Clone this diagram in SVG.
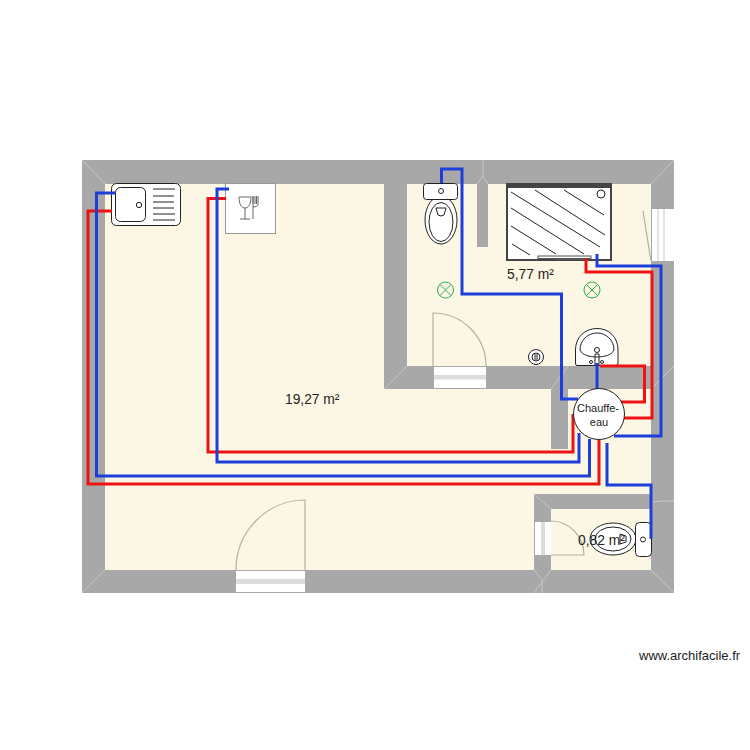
<svg xmlns="http://www.w3.org/2000/svg" width="750" height="750" viewBox="0 0 750 750">
<style>
text{font-family:"Liberation Sans",Arial,sans-serif;fill:#222}
.wall{fill:#a8a8a8}
.room{fill:#fcf7e4}
.seam{stroke:#c8c8c8;stroke-width:1;fill:none}
.door{fill:none;stroke:#b5b0a5;stroke-width:1.2}
.win{fill:#fff}
.win2{fill:#dcdcdc}
.hot{fill:none;stroke:#ee1212;stroke-width:3}
.cold{fill:none;stroke:#1c3fdc;stroke-width:3}
.fx{fill:#fff;stroke:#222;stroke-width:1}
.ln{fill:none;stroke:#222;stroke-width:1}
.grn{fill:none;stroke:#2fae4e;stroke-width:1}
</style>
<rect width="750" height="750" fill="#fff"/>
<g id="walls">
<rect class="wall" x="82" y="160" width="592" height="433"/>
<path class="room" d="M105 184H384V389H551V449H568V389H651V494H534V570H105Z"/>
<path class="room" d="M407 184H651V366H407Z"/>
<rect class="room" x="551" y="509" width="100" height="61"/>
<rect class="wall" x="477" y="184" width="11" height="63"/>
<path class="seam" d="M82 160L105 184M674 160L651 184M82 593L105 570M674 593L651 570M483 160V176L477 184M483 176L488 184M384 389L407 366M551 389L568 366M651 389L674 366M534 593L551 570M534 494L551 509M651 502L662 501H674M534 570L542 580V593"/>
</g>
<g id="door-main">
<rect class="win" x="236" y="571" width="69" height="21"/><rect class="win2" x="236" y="579" width="69" height="5"/>
<path class="door" d="M236 570A69 70 0 0 1 305 500V570"/>
</g>
<g id="door-bath">
<rect class="win" x="434" y="367" width="52" height="21"/><rect class="win2" x="434" y="375" width="52" height="4.500"/>
<path class="door" d="M433 366V313A53 53 0 0 1 486 366"/>
</g>
<g id="door-wc">
<rect class="win" x="535" y="522" width="16" height="33"/><rect class="win2" x="541" y="522" width="4" height="33"/>
<path class="door" d="M551 521A33 34 0 0 1 584 555H551"/>
</g>
<g id="window-right">
<rect class="win" x="652" y="209" width="22" height="52"/>
<path class="seam" d="M658 209V261M664 209V261"/>
<path class="door" d="M643 211L651 261"/>
</g>
<g id="sink">
<rect class="fx" x="111.500" y="183.500" width="69" height="42" rx="5"/>
<rect class="fx" x="115.500" y="187.500" width="30" height="34" rx="5"/>
<circle class="fx" cx="139" cy="205" r="2.700"/>
<path class="ln" d="M153 189H175M153 196H174M153 202H174M153 208H174M153 214H175M153 220H175"/>
</g>
<g id="dishwasher">
<rect x="225.500" y="183.500" width="50" height="50" fill="#fff" stroke="#999"/>
<path d="M239 197H251C251 205 248 208 245 208C242 208 239 205 239 197ZM245 208V219M240 219H250M253 196V219M253 207C256 207 258 206 258 204V196M253 196V204M255 196V204M256.500 196V204" fill="none" stroke="#666" stroke-width="1"/>
</g>
<g id="toilet-bath">
<ellipse class="fx" cx="441" cy="220" rx="16" ry="24"/>
<ellipse class="ln" cx="441" cy="222" rx="12" ry="19.500"/>
<path class="ln" d="M436 208H446L444 215Q441 217 438 215Z"/>
<rect class="fx" x="423.500" y="183.500" width="34" height="16" rx="3"/>
<circle class="fx" cx="441" cy="191" r="2.500"/>
</g>
<g id="shower">
<rect x="506" y="183" width="106" height="78" fill="#fff"/>
<path d="M507 261V184H611V261" fill="none" stroke="#444" stroke-width="2"/>
<rect x="506" y="184" width="106" height="4" fill="#444"/>
<path d="M506 260H612" stroke="#444" stroke-width="2"/>
<path class="ln" d="M511 192L600 247M535 190L605 235M564 190L604 215M511 208L584 254M511 226L556 254M512 244L530 255"/>
<circle class="fx" cx="601" cy="194" r="4"/>
<rect x="538" y="256" width="53" height="2.500" fill="#fff" stroke="#555" stroke-width="1"/>
<rect x="555" y="258" width="34" height="2" fill="#555"/>
</g>
<g id="lamp-1"><circle class="grn" cx="445.500" cy="290" r="8"/><path class="grn" d="M440 284.500L451 295.500M451 284.500L440 295.500"/></g>
<g id="lamp-2"><circle class="grn" cx="592" cy="290" r="8"/><path class="grn" d="M586.500 284.500L597.500 295.500M597.500 284.500L586.500 295.500"/></g>
<g id="vent"><circle class="fx" cx="536" cy="357" r="7.500"/><circle class="ln" cx="536" cy="357" r="4"/><path class="ln" d="M535 354V360M537 354V360"/></g>
<g id="basin">
<path class="fx" d="M577 365.500Q575.500 365.500 575.500 363V350C575.500 337 585 328.500 597 328.500C609 328.500 618 337 618 350V363Q618 365.500 616 365.500Z"/>
<path class="ln" d="M580 350C580 340 588 333 597 333C606 333 614 340 614 350C612 355 604 357 597 357C590 357 582 355 580 350Z"/>
<circle class="fx" cx="597" cy="350" r="2.500"/>
<path class="ln" d="M595 354H599V365H595Z"/>
<circle class="fx" cx="591" cy="362" r="1.500"/><circle class="fx" cx="602" cy="362" r="1.500"/>
</g>
<g id="toilet-wc">
<ellipse class="fx" cx="613" cy="539" rx="23" ry="16"/>
<ellipse class="ln" cx="613" cy="539" rx="18" ry="12"/>
<path class="ln" d="M620 534V544L626 542V536Z"/>
<rect class="fx" x="635.500" y="522.500" width="16" height="34" rx="4"/>
<circle class="fx" cx="643" cy="539.500" r="2.500"/>
</g>
<g id="connectors">
<path class="cold" d="M441.500 183V169H462V294H561.500V399H578"/>
<path class="hot" d="M112 211H88V484H599V440"/>
<path class="cold" d="M115 193H96.500V476H589.500V439"/>
<path class="hot" d="M226 198.500H208V452H573V414"/>
<path class="cold" d="M229 189H217V462H579V433"/>
<path class="cold" d="M607 443V485H651V539"/>
<path class="hot" d="M586 258V272H652V418H623"/>
<path class="cold" d="M597 254V266H661V436H614"/>
<path class="hot" d="M600 366H644.500V402H620"/>
<path class="cold" d="M597 363V389"/>
</g>
<g id="heater">
<circle class="fx" cx="599" cy="414" r="25.500"/>
<text x="598" y="412" font-size="11" text-anchor="middle">Chauffe-</text>
<text x="599" y="426" font-size="11" text-anchor="middle">eau</text>
</g>
<g id="labels">
<text x="285" y="404" font-size="13.800">19,27 m²</text>
<text x="507" y="279" font-size="13.800">5,77 m²</text>
<text x="578" y="545" font-size="13.800">0,82 m²</text>
<text x="639" y="660" font-size="13">www.archifacile.fr</text>
</g>
</svg>
